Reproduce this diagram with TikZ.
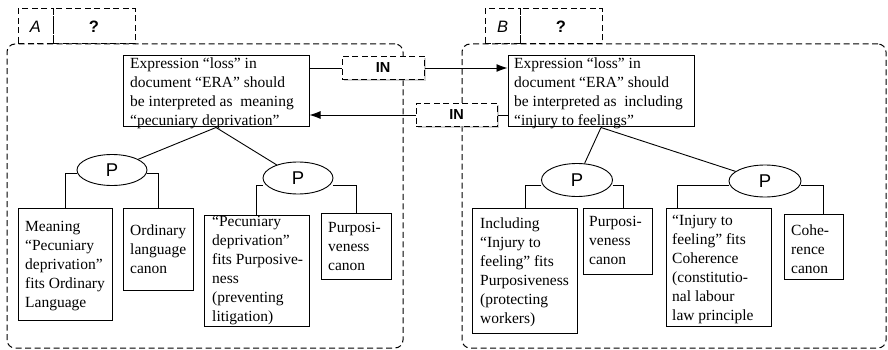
\documentclass[tikz,border=0pt]{standalone}
\usepackage{fontspec}
\setmainfont{Liberation Serif}
\newfontfamily\labelsans{Liberation Sans}
\usetikzlibrary{arrows.meta,shapes.geometric,shadows}

\begin{document}
\begin{tikzpicture}[x=1pt,y=-1pt,
  frame/.style={draw, dash pattern=on 6pt off 3.5pt, line width=1pt},
  region/.style={frame, rounded corners=8pt, inner sep=0pt},
  tabcell/.style={frame, minimum height=35pt, inner sep=0pt,
    font=\labelsans\fontsize{16.5}{18}\selectfont},
  inbox/.style={frame, fill=white, minimum width=81pt, minimum height=23pt, inner sep=0pt,
    font=\labelsans\bfseries\fontsize{14.5}{16}\selectfont,
    drop shadow={shadow xshift=1.8pt, shadow yshift=-1.8pt, fill=black!35}},
  card/.style={draw, line width=1pt, inner sep=0pt},
  txt/.style={inner sep=0pt, align=left, anchor=north west,
    font=\fontsize{15.5}{19}\selectfont},
  pnode/.style={draw, ellipse, line width=0.9pt, fill=white, inner sep=0pt,
    minimum width=70pt, minimum height=32pt,
    font=\labelsans\fontsize{18.5}{20}\selectfont},
  link/.style={line width=0.9pt},
  arrowlink/.style={line width=0.9pt, -{Latex[length=11pt,width=8pt]}}
]
\useasboundingbox (0,0) rectangle (888,350);

% dashed regions with their header tabs
\node[region, minimum width=396pt, minimum height=304pt] (regA) at (205,196) {};
\node[region, minimum width=424pt, minimum height=304pt] (regB) at (674,196) {};
\node[tabcell, minimum width=35pt] (tabA) at (35.5,26.5) {\itshape A};
\node[tabcell, minimum width=82pt] (tabAq) at (94,26.5) {\bfseries ?};
\node[tabcell, minimum width=35pt] (tabB) at (502.5,26.5) {\itshape B};
\node[tabcell, minimum width=82pt] (tabBq) at (561,26.5) {\bfseries ?};

% top claims
\node[card, minimum width=186pt, minimum height=71pt] (an) at (216,91.5) {};
\node[txt] (ant) at (130,57.4) {Expression “loss” in\\document “ERA” should\\be interpreted as\ \ meaning\\“pecuniary deprivation”};
\node[card, minimum width=186pt, minimum height=71pt] (bn) at (601,91.5) {};
\node[txt] (bnt) at (514,57.4) {Expression “loss” in\\document “ERA” should\\be interpreted as\ \ including\\“injury to feelings”};

% argument boxes, side A
\node[card, minimum width=94pt, minimum height=112pt] (a1) at (65,264) {};
\node[txt] (a1t) at (25,221.4) {Meaning\\“Pecuniary\\deprivation”\\fits Ordinary\\Language};
\node[card, minimum width=70pt, minimum height=82pt] (a2) at (158,249) {};
\node[txt] (a2t) at (130,224.4) {Ordinary\\language\\canon};
\node[card, minimum width=105pt, minimum height=111pt] (a3) at (256.5,270.5) {};
\node[txt] (a3t) at (212,216.4) {“Pecuniary\\deprivation”\\fits Purposive-\\ness\\(preventing\\litigation)};
\node[card, minimum width=70pt, minimum height=66pt] (a4) at (356,246) {};
\node[txt] (a4t) at (328,222.4) {Purposi-\\veness\\canon};

% argument boxes, side B
\node[card, minimum width=105pt, minimum height=125pt] (b1) at (524.5,270.5) {};
\node[txt] (b1t) at (480,217.4) {Including\\“Injury to\\feeling” fits\\Purposiveness\\(protecting\\workers)};
\node[card, minimum width=69pt, minimum height=66pt] (b2) at (617.5,241) {};
\node[txt] (b2t) at (589,216.4) {Purposi-\\veness\\canon};
\node[card, minimum width=105pt, minimum height=118pt] (b3) at (718.5,267) {};
\node[txt] (b3t) at (672,215.4) {“Injury to\\feeling” fits\\Coherence\\(constitutio-\\nal labour\\law principle};
\node[card, minimum width=59pt, minimum height=65pt] (b4) at (813.5,246.5) {};
\node[txt] (b4t) at (791,224.4) {Cohe-\\rence\\canon};

% P nodes
\node[pnode, minimum height=31pt] (pa1) at (112,170) {P};
\node[pnode] (pa2) at (298,178) {P};
\node[pnode, minimum width=71pt, minimum height=33pt] (pb1) at (577,180) {P};
\node[pnode, minimum width=72pt] (pb2) at (765,181) {P};

% claim to P links
\draw[link] (an.south) -- (pa1);
\draw[link] (an.south) -- (pa2);
\draw[link] (bn.south) -- (pb1);
\draw[link] (bn.south) -- (pb2);

% P to argument links
\draw[link] (pa1.west) ++(0,3) -| (a1.north);
\draw[link] (pa1.east) ++(0,3) -| (a2.north);
\draw[link] (pa2.west) ++(0,7) -| (a3.north);
\draw[link] (pa2.east) ++(0,7) -| (a4.north);
\draw[link] (pb1.west) ++(0,5) -| ([xshift=0.5pt]b1.north);
\draw[link] (pb1.east) ++(0,5) -| ([xshift=5.5pt]b2.north);
\draw[link] (pb2.west) ++(0,4) -| ([xshift=-41.5pt]b3.north);
\draw[link] (pb2.east) ++(0,4) -| ([xshift=9.5pt]b4.north);

% IN relations between the two claims
\node[inbox, minimum width=82pt] (in1) at (383,68) {IN};
\node[inbox] (in2) at (456.5,115) {IN};
\draw[link] (an.east |- in1.west) -- (in1.west);
\draw[arrowlink] (in1.east) -- (in1.east -| bn.west);
\draw[link] (bn.west |- in2.east) -- (in2.east);
\draw[arrowlink] (in2.west) -- (in2.west -| an.east);
\end{tikzpicture}
\end{document}
